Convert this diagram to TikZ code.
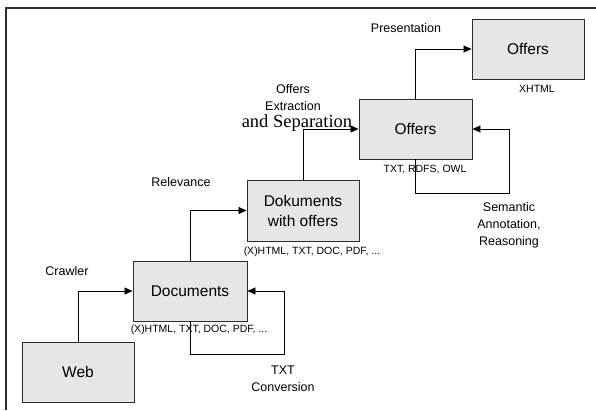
\documentclass[tikz,border=0pt]{standalone}
\usepackage{fontspec}
\setmainfont{Liberation Sans}
\newfontfamily\serifpart{Liberation Serif}
\usetikzlibrary{arrows.meta}
\definecolor{boxgray}{RGB}{230,230,230}
\definecolor{linegray}{RGB}{45,45,45}

\begin{document}
\begin{tikzpicture}[x=1pt,y=-1pt,
  box/.style={draw=linegray,fill=boxgray,line width=0.9pt,minimum width=112pt,minimum height=60pt,inner sep=0pt,align=center,font=\fontsize{15.5}{20}\selectfont},
  lbl/.style={inner sep=0pt,align=center,font=\fontsize{12.5}{17}\selectfont},
  small/.style={inner sep=0pt,font=\fontsize{10.5}{12}\selectfont},
  flow/.style={draw=black,line width=0.8pt,-{Triangle[length=8pt,width=7pt]}}]
\useasboundingbox (0,0) rectangle (596,410);
\draw[linegray,line width=1.2pt] (6,410) -- (6,8) -- (596,8);
% boxes
\node[box] (web) at (78,372) {Web};
\node[box,minimum width=114pt] (docs) at (190,291) {Documents};
\node[box,minimum height=61pt] (dok) at (303,210.5) {Dokuments\\with offers};
\node[box,minimum width=113pt] (offers) at (415.5,129) {Offers};
\node[box] (pres) at (528,49) {Offers};
% formats
\node[small] (docsfmt) at (199,330) {(X)HTML, TXT, DOC, PDF, ...};
\node[small] (dokfmt) at (312,252) {(X)HTML, TXT, DOC, PDF, ...};
\node[small] (offersfmt) at (425,170) {TXT, RDFS, OWL};
\node[small] (presfmt) at (537,89) {XHTML};
% steps
\node[lbl] (crawler) at (67,271) {Crawler};
\node[lbl] (relevance) at (181,182) {Relevance};
\node[lbl] (extraction) at (293,97.5) {Offers\\Extraction};
\node[inner sep=0pt,font=\serifpart\fontsize{18.5}{20}\selectfont] (separation) at (297,123) {and Separation};
\node[lbl] (presentation) at (406,28) {Presentation};
\node[lbl] (conversion) at (283,378.5) {TXT\\Conversion};
\node[lbl] (semantic) at (509,225) {Semantic\\Annotation,\\Reasoning};
% connectors
\coordinate (convturn) at (284,354);
\coordinate (semturn) at (509,193);
\draw[flow] (web.north) |- (docs.west);
\draw[flow] (docs.north) |- (dok.west);
\draw[flow] (dok.north) |- (offers.west);
\draw[flow] (offers.north) |- (pres.west);
\draw[flow] (docs.south) |- (convturn) |- (docs.east);
\draw[flow] (offers.south) |- (semturn) |- (offers.east);
\end{tikzpicture}
\end{document}
